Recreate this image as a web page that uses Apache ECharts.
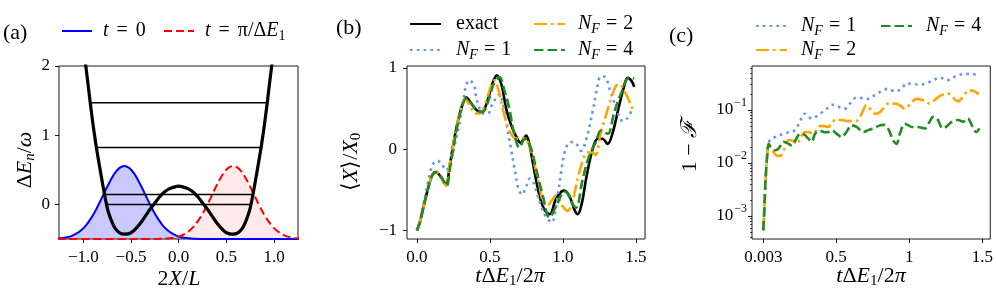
<!DOCTYPE html>
<html><head><meta charset="utf-8">
<script src="https://cdn.jsdelivr.net/npm/echarts@6.0.0/dist/echarts.min.js"></script>
<style>html,body{margin:0;padding:0;background:#fff}#c{width:996px;height:299px}</style>
</head><body><div id="c"></div>
<script>
// ---------- Panel (a) ----------
const aPotX = [-1.05,-1.0,-0.974,-0.95,-0.925,-0.895,-0.863,-0.82,-0.778,-0.757,-0.74,-0.71,-0.67,-0.62,-0.565,-0.5,-0.45,-0.4,-0.33,-0.3,-0.25,-0.2,-0.15,-0.1,-0.05,0,0.05,0.1,0.15,0.2,0.25,0.3,0.33,0.4,0.45,0.5,0.565,0.62,0.67,0.71,0.74,0.757,0.778,0.82,0.863,0.895,0.925,0.95,0.974,1.0,1.05];
const aPotV = [2.95,2.32,2.0,1.73,1.44,1.12,0.82,0.47,0.144,0.0,-0.10,-0.22,-0.34,-0.41,-0.43,-0.41,-0.35,-0.27,-0.13,-0.07,0.02,0.11,0.18,0.225,0.25,0.264,0.25,0.225,0.18,0.11,0.02,-0.07,-0.13,-0.27,-0.35,-0.41,-0.43,-0.41,-0.34,-0.22,-0.10,0.0,0.144,0.47,0.82,1.12,1.44,1.73,2.0,2.32,2.95];
const aLevelE = [0, 0.144, 0.822, 1.47];
const aLevelHalfWidth = [0.757, 0.778, 0.863, 0.927];
const aBlueX = [-1.27,-1.22,-1.17,-1.12,-1.07,-1.02,-0.97,-0.92,-0.87,-0.82,-0.77,-0.72,-0.67,-0.62,-0.57,-0.52,-0.47,-0.42,-0.37,-0.32,-0.27,-0.22,-0.17,-0.12,-0.07,-0.02,0.03,0.08,0.13,0.23,0.5,1.27];
const aBlueY = [-0.493,-0.487,-0.474,-0.454,-0.420,-0.370,-0.298,-0.202,-0.084,0.053,0.198,0.336,0.452,0.528,0.555,0.528,0.452,0.336,0.198,0.053,-0.084,-0.202,-0.298,-0.370,-0.420,-0.454,-0.474,-0.487,-0.493,-0.499,-0.5,-0.5];
const aRedX = [-1.27,-0.5,-0.23,-0.13,-0.08,-0.03,0.02,0.07,0.12,0.17,0.22,0.27,0.32,0.37,0.42,0.47,0.52,0.57,0.62,0.67,0.72,0.77,0.82,0.87,0.92,0.97,1.02,1.07,1.12,1.17,1.22,1.27];
const aRedY = [-0.5,-0.5,-0.499,-0.493,-0.487,-0.474,-0.454,-0.420,-0.370,-0.298,-0.202,-0.084,0.053,0.198,0.336,0.452,0.528,0.555,0.528,0.452,0.336,0.198,0.053,-0.084,-0.202,-0.298,-0.370,-0.420,-0.454,-0.474,-0.487,-0.493];
const aXTicks = [-1, -0.5, 0, 0.5, 1];
const aYTicks = [0, 1, 2];

// ---------- Panel (b): <X>/X0 vs t dE1/2pi ----------
const bExact = [[0,-1],[0.02,-0.9],[0.041,-0.74],[0.075,-0.49],[0.105,-0.32],[0.13,-0.28],[0.16,-0.33],[0.2,-0.43],[0.223,-0.22],[0.245,0.02],[0.269,0.25],[0.303,0.5],[0.337,0.64],[0.37,0.57],[0.41,0.48],[0.445,0.46],[0.48,0.58],[0.515,0.8],[0.547,0.91],[0.58,0.79],[0.611,0.5],[0.645,0.3],[0.679,0.16],[0.71,0.08],[0.748,0.17],[0.775,0.02],[0.793,-0.16],[0.839,-0.57],[0.875,-0.75],[0.91,-0.8],[0.95,-0.62],[0.99,-0.52],[1.01,-0.51],[1.05,-0.6],[1.08,-0.75],[1.101,-0.8],[1.13,-0.66],[1.158,-0.37],[1.203,0.0],[1.238,0.13],[1.27,0.13],[1.306,0.066],[1.34,0.2],[1.38,0.5],[1.415,0.75],[1.443,0.88],[1.47,0.84],[1.488,0.77]];
const bNF1 = [[0,-1],[0.02,-0.9],[0.041,-0.72],[0.075,-0.42],[0.105,-0.2],[0.137,-0.14],[0.17,-0.18],[0.2,-0.26],[0.235,-0.12],[0.269,0.13],[0.292,0.33],[0.315,0.58],[0.337,0.79],[0.36,0.85],[0.394,0.77],[0.406,0.64],[0.43,0.5],[0.455,0.44],[0.486,0.44],[0.515,0.55],[0.542,0.63],[0.566,0.68],[0.59,0.55],[0.615,0.3],[0.645,0.0],[0.67,-0.25],[0.695,-0.48],[0.72,-0.56],[0.75,-0.45],[0.775,-0.36],[0.80,-0.42],[0.84,-0.64],[0.88,-0.82],[0.923,-0.9],[0.96,-0.62],[0.99,-0.25],[1.01,-0.05],[1.035,0.07],[1.055,0.09],[1.09,0.07],[1.124,-0.02],[1.158,0.11],[1.203,0.46],[1.238,0.79],[1.26,0.9],[1.29,0.89],[1.318,0.75],[1.363,0.52],[1.397,0.36],[1.42,0.35],[1.44,0.38],[1.477,0.5]];
const bNF2 = [[0,-1],[0.02,-0.9],[0.041,-0.74],[0.075,-0.49],[0.105,-0.31],[0.13,-0.27],[0.16,-0.33],[0.2,-0.45],[0.222,-0.22],[0.245,0.02],[0.268,0.25],[0.3,0.5],[0.33,0.62],[0.36,0.55],[0.4,0.44],[0.43,0.44],[0.47,0.57],[0.5,0.74],[0.531,0.85],[0.56,0.72],[0.59,0.48],[0.625,0.27],[0.66,0.15],[0.695,0.13],[0.73,0.14],[0.77,0.05],[0.80,-0.15],[0.839,-0.45],[0.862,-0.64],[0.89,-0.7],[0.92,-0.64],[0.953,-0.57],[0.99,-0.68],[1.03,-0.76],[1.06,-0.68],[1.113,-0.28],[1.17,-0.04],[1.2,-0.04],[1.222,-0.07],[1.26,0.21],[1.295,0.42],[1.329,0.62],[1.363,0.78],[1.385,0.8],[1.432,0.68],[1.477,0.5],[1.488,0.48]];
const bNF4 = [[0,-1],[0.02,-0.9],[0.041,-0.74],[0.075,-0.49],[0.105,-0.32],[0.135,-0.28],[0.165,-0.34],[0.203,-0.45],[0.228,-0.22],[0.25,0.02],[0.273,0.25],[0.305,0.5],[0.34,0.63],[0.375,0.56],[0.415,0.47],[0.45,0.46],[0.49,0.6],[0.525,0.8],[0.565,0.89],[0.6,0.72],[0.633,0.5],[0.665,0.2],[0.702,0.02],[0.74,0.13],[0.78,0.02],[0.816,-0.24],[0.862,-0.57],[0.907,-0.84],[0.964,-0.66],[1.01,-0.52],[1.04,-0.56],[1.067,-0.68],[1.09,-0.72],[1.135,-0.37],[1.18,-0.08],[1.226,0.09],[1.261,0.23],[1.306,0.19],[1.352,0.46],[1.397,0.68],[1.454,0.88],[1.488,0.87]];
const bXTicks = [0, 0.5, 1, 1.5];
const bYTicks = [-1, 0, 1];

// ---------- Panel (c): log10(1-F) vs t dE1/2pi ----------
const cLogNF1 = [[0.003,-3.27],[0.0095,-2.92],[0.016,-2.48],[0.023,-2.11],[0.032,-1.79],[0.039,-1.62],[0.062,-1.53],[0.085,-1.51],[0.11,-1.48],[0.141,-1.45],[0.182,-1.415],[0.21,-1.4],[0.243,-1.28],[0.289,-1.07],[0.334,-1.16],[0.391,-1.07],[0.437,-0.976],[0.477,-0.9],[0.516,-0.94],[0.561,-0.975],[0.595,-0.88],[0.636,-0.77],[0.67,-0.775],[0.72,-0.79],[0.766,-0.72],[0.81,-0.65],[0.856,-0.6],[0.902,-0.65],[0.947,-0.6],[0.982,-0.5],[1.027,-0.51],[1.072,-0.52],[1.118,-0.5],[1.163,-0.44],[1.213,-0.39],[1.258,-0.44],[1.304,-0.38],[1.35,-0.33],[1.4,-0.32],[1.454,-0.33],[1.478,-0.34]];
const cLogNF2 = [[0.003,-3.27],[0.0095,-2.92],[0.016,-2.48],[0.023,-2.11],[0.032,-1.79],[0.039,-1.64],[0.045,-1.67],[0.062,-1.73],[0.08,-1.82],[0.095,-1.86],[0.119,-1.87],[0.141,-1.77],[0.175,-1.57],[0.2,-1.57],[0.232,-1.64],[0.26,-1.51],[0.289,-1.415],[0.315,-1.42],[0.345,-1.45],[0.38,-1.32],[0.41,-1.3],[0.448,-1.32],[0.47,-1.24],[0.505,-1.18],[0.54,-1.19],[0.584,-1.21],[0.62,-1.2],[0.645,-1.2],[0.675,-1.07],[0.709,-0.91],[0.74,-1.0],[0.766,-1.07],[0.795,-1.05],[0.822,-0.975],[0.856,-0.88],[0.9,-0.88],[0.936,-0.91],[0.97,-0.975],[1.004,-0.9],[1.05,-0.79],[1.1,-0.82],[1.14,-0.88],[1.17,-0.82],[1.22,-0.72],[1.265,-0.69],[1.298,-0.76],[1.333,-0.84],[1.367,-0.755],[1.408,-0.63],[1.44,-0.64],[1.476,-0.7]];
const cLogNF4 = [[0.003,-3.27],[0.0095,-2.92],[0.016,-2.48],[0.023,-2.11],[0.032,-1.79],[0.039,-1.64],[0.045,-1.67],[0.062,-1.7],[0.085,-1.76],[0.11,-1.72],[0.141,-1.6],[0.17,-1.63],[0.198,-1.67],[0.225,-1.56],[0.255,-1.45],[0.28,-1.46],[0.311,-1.54],[0.334,-1.6],[0.357,-1.45],[0.39,-1.39],[0.42,-1.42],[0.448,-1.415],[0.47,-1.38],[0.505,-1.45],[0.539,-1.51],[0.57,-1.42],[0.607,-1.29],[0.641,-1.32],[0.686,-1.415],[0.72,-1.38],[0.754,-1.35],[0.8,-1.29],[0.83,-1.28],[0.856,-1.35],[0.89,-1.57],[0.913,-1.64],[0.936,-1.45],[0.97,-1.26],[0.995,-1.29],[1.016,-1.32],[1.06,-1.32],[1.106,-1.35],[1.14,-1.22],[1.163,-1.13],[1.19,-1.16],[1.231,-1.35],[1.26,-1.3],[1.288,-1.23],[1.333,-1.19],[1.37,-1.22],[1.4,-1.16],[1.43,-1.3],[1.458,-1.415],[1.48,-1.35]];
const cXTicks = [0.003, 0.5, 1, 1.5];
const cYTicks = [0.001, 0.01, 0.1];
const cYMinorTicks = [0.0004,0.0005,0.0006,0.0007,0.0008,0.0009,0.002,0.003,0.004,0.005,0.006,0.007,0.008,0.009,0.02,0.03,0.04,0.05,0.06,0.07,0.08,0.09,0.2,0.3,0.4,0.5,0.6];

// ---------- styling ----------
const SERIF = 'Liberation Serif';
const C_BLUE = '#6495ED', C_ORANGE = '#FFA500', C_GREEN = '#228B22';
const pairs = (xs, ys) => xs.map((x, i) => [x, ys[i]]);
const pow10 = arr => arr.map(p => [p[0], Math.pow(10, p[1])]);
const minus = s => String(s).replace('-', '\u2212');

const RICH = {
  r: {fontFamily: SERIF, fontSize: 20, lineHeight: 24, color: '#000'},
  i: {fontFamily: SERIF, fontSize: 20, fontStyle: 'italic', lineHeight: 24, color: '#000'},
  R: {fontFamily: SERIF, fontSize: 22, lineHeight: 26, color: '#000'},
  I: {fontFamily: SERIF, fontSize: 22, fontStyle: 'italic', lineHeight: 26, color: '#000'},
  eq: {fontFamily: SERIF, fontSize: 20, lineHeight: 24, padding: [0, 6, 0, 6], color: '#000'},
  eqw: {fontFamily: SERIF, fontSize: 20, lineHeight: 24, padding: [0, 8, 0, 8], color: '#000'},
  sub: {fontFamily: SERIF, fontSize: 14, lineHeight: 13, verticalAlign: 'bottom', color: '#000'},
  subi: {fontFamily: SERIF, fontSize: 14, fontStyle: 'italic', lineHeight: 13, verticalAlign: 'bottom', color: '#000'},
  SUB: {fontFamily: SERIF, fontSize: 15, lineHeight: 14, verticalAlign: 'bottom', color: '#000'},
  SUBI: {fontFamily: SERIF, fontSize: 15, fontStyle: 'italic', lineHeight: 14, verticalAlign: 'bottom', color: '#000'}
};
const LABEL = {
  a_t0: '{i|t}{eqw|=}{r|0}',
  a_tpi: '{i|t}{eqw|=}{r|π/Δ}{i|E}{sub|1}',
  b_exact: '{r|exact}',
  b_NF1: '{i|N}{subi|F}{eq|=}{r|1}',
  b_NF2: '{i|N}{subi|F}{eq|=}{r|2}',
  b_NF4: '{i|N}{subi|F}{eq|=}{r|4}',
  c_NF1: '{i|N}{subi|F}{eq|=}{r|1}',
  c_NF2: '{i|N}{subi|F}{eq|=}{r|2}',
  c_NF4: '{i|N}{subi|F}{eq|=}{r|4}'
};
function leg(name, left, cy, w, pad) {
  return {
    data: [name], left: left, top: cy - 12, padding: 0, itemWidth: w, itemHeight: 12,
    selectedMode: false, itemGap: 0,
    itemStyle: {opacity: 0, borderWidth: 0},
    formatter: n => '{sp| }' + LABEL[n],
    textStyle: {fontFamily: SERIF, fontSize: 20, color: '#000',
      rich: Object.assign({}, RICH, {sp: {fontSize: 20, lineHeight: 24, width: pad}})}
  };
}

const tickStyle = {length: 4, lineStyle: {color: '#000', width: 0.9}};
const lblBase = {fontFamily: SERIF, fontSize: 17, color: '#000', lineHeight: 18};
function valAxis(grid, min, max, ticks, fmt, margin) {
  return {
    gridIndex: grid, type: 'value', min: min, max: max,
    axisLine: {show: false, onZero: false}, splitLine: {show: false},
    axisTick: Object.assign({show: true, customValues: ticks}, tickStyle),
    axisLabel: Object.assign({show: true, customValues: ticks, margin: margin, formatter: fmt}, lblBase)
  };
}
const fmt1 = v => minus((Math.abs(v) < 1e-9 ? 0 : v).toFixed(1));
const fmt0 = v => minus(Math.round(v));

const gridStyle = {show: true, borderColor: '#1a1a1a', borderWidth: 1, backgroundColor: 'transparent'};

const texts = [
  {x: 3, y: 33, t: '{R|(a)}'},
  {x: 336, y: 28, t: '{R|(b)}'},
  {x: 669, y: 36, t: '{R|(c)}'}
].map(o => ({type: 'text', x: o.x, y: o.y, style: {text: o.t, rich: RICH, align: 'left', verticalAlign: 'middle', textAlign: 'left', textVerticalAlign: 'middle', fill: '#000'}}));
const names = [
  {x: 179, y: 279, r: 0, t: '{R|2}{I|X}{R|/}{I|L}'},
  {x: 510, y: 276, r: 0, t: '{I|t}{R|Δ}{I|E}{SUB|1}{R|/2}{I|π}'},
  {x: 871, y: 276, r: 0, t: '{I|t}{R|Δ}{I|E}{SUB|1}{R|/2}{I|π}'},
  {x: 25, y: 160, r: Math.PI / 2, t: '{R|Δ}{I|E}{SUBI|n}{R|/}{I|ω}'},
  {x: 351, y: 162, r: Math.PI / 2, t: '{R|⟨}{I|X}{R|⟩/}{I|X}{SUB|0}'},
  {x: 690, y: 146, r: Math.PI / 2, t: '{R|1 − }{I|ℱ}'}
].map(o => ({type: 'text', x: o.x, y: o.y, rotation: o.r, style: {text: o.t, rich: RICH, align: 'center', verticalAlign: 'middle', textAlign: 'center', textVerticalAlign: 'middle', fill: '#000'}}));

function lineSeries(name, xi, yi, data, color, width, type, extra) {
  return Object.assign({
    name: name, type: 'line', xAxisIndex: xi, yAxisIndex: yi, data: data,
    showSymbol: false, symbol: 'none', smooth: 0.35, clip: true, z: 3,
    lineStyle: {color: color, width: width, type: type || 'solid'},
    itemStyle: {color: color}, emphasis: {disabled: true}
  }, extra || {});
}

const series = [
  lineSeries('a_t0', 0, 0, pairs(aBlueX, aBlueY), '#0000ff', 2, 'solid', {smooth: 0.3, areaStyle: {color: 'rgba(0,0,255,0.3)', origin: 'start'}}),
  lineSeries('a_tpi', 0, 0, pairs(aRedX, aRedY), '#ff0000', 2, [8, 4], {smooth: 0.3, areaStyle: {color: 'rgba(255,0,0,0.12)', origin: 'start'}}),
  lineSeries('a_pot', 0, 0, pairs(aPotX, aPotV), '#000', 3.2, 'solid', {smooth: 0.25, z: 5})
];
aLevelE.forEach((e, k) => {
  series.push(lineSeries('a_lvl' + k, 0, 0, [[-aLevelHalfWidth[k], e], [aLevelHalfWidth[k], e]], '#000', 1.5, 'solid', {smooth: false, z: 4}));
});
series.push(
  lineSeries('b_exact', 1, 1, bExact, '#000', 2.6, 'solid'),
  lineSeries('b_NF1', 1, 1, bNF1, C_BLUE, 2.6, [2.6, 4.2]),
  lineSeries('b_NF2', 1, 1, bNF2, C_ORANGE, 2.6, [13, 4, 2.6, 4]),
  lineSeries('b_NF4', 1, 1, bNF4, C_GREEN, 2.6, [9.5, 4]),
  lineSeries('c_NF1', 2, 2, pow10(cLogNF1), C_BLUE, 2.6, [2.6, 4.2]),
  lineSeries('c_NF2', 2, 2, pow10(cLogNF2), C_ORANGE, 2.6, [13, 4, 2.6, 4]),
  lineSeries('c_NF4', 2, 2, pow10(cLogNF4), C_GREEN, 2.6, [9.5, 4])
);

const cYMin = Math.pow(10, -3.434), cYMax = Math.pow(10, -0.17);
const option = {
  animation: false,
  backgroundColor: '#fff',
  grid: [
    Object.assign({left: 59, top: 66, width: 239, height: 173}, gridStyle),
    Object.assign({left: 407, top: 66, width: 238, height: 173}, gridStyle),
    Object.assign({left: 752, top: 66, width: 239, height: 173}, gridStyle)
  ],
  xAxis: [
    valAxis(0, -1.255, 1.25, aXTicks, fmt1, 10),
    valAxis(1, -0.068, 1.562, bXTicks, fmt1, 10),
    valAxis(2, -0.074, 1.554, cXTicks, v => String(v), 10)
  ],
  yAxis: [
    valAxis(0, -0.5, 2, aYTicks, fmt0, 9),
    valAxis(1, -1.105, 1.025, bYTicks, fmt0, 10),
    {
      gridIndex: 2, type: 'log', logBase: 10, min: cYMin, max: cYMax, position: 'left',
      axisLine: {show: false, onZero: false}, splitLine: {show: false}, minorTick: {show: false},
      axisTick: Object.assign({show: true, customValues: cYTicks}, tickStyle),
      axisLabel: {show: true, customValues: cYTicks, margin: 5, color: '#000',
        formatter: v => '{b|10}{s|\u2212' + Math.abs(Math.round(Math.log10(v))) + '}',
        rich: {b: {fontFamily: SERIF, fontSize: 17, lineHeight: 26, color: '#000'},
               s: {fontFamily: SERIF, fontSize: 12, lineHeight: 12, verticalAlign: 'top', padding: [0, 0, 0, 1], color: '#000'}}}
    },
    {
      gridIndex: 2, type: 'log', logBase: 10, min: cYMin, max: cYMax, position: 'left',
      axisLine: {show: false, onZero: false}, splitLine: {show: false}, axisLabel: {show: false},
      axisTick: {show: true, customValues: cYMinorTicks, length: 2, lineStyle: {color: '#000', width: 0.7}}
    }
  ],
  legend: [
    leg('a_t0', 61, 33, 30, 6),
    leg('a_tpi', 163, 33, 30, 6),
    leg('b_exact', 409, 26, 31, 10),
    leg('b_NF2', 533, 26, 31, 8),
    leg('b_NF1', 409, 52, 31, 10),
    leg('b_NF4', 533, 52, 31, 8),
    leg('c_NF1', 755, 28, 31, 9),
    leg('c_NF4', 880, 28, 31, 9),
    leg('c_NF2', 755, 52, 31, 9)
  ],
  graphic: texts.concat(names),
  series: series
};
const chart = echarts.init(document.getElementById('c'), null, {renderer: 'canvas'});
chart.setOption(option);
</script></body></html>
